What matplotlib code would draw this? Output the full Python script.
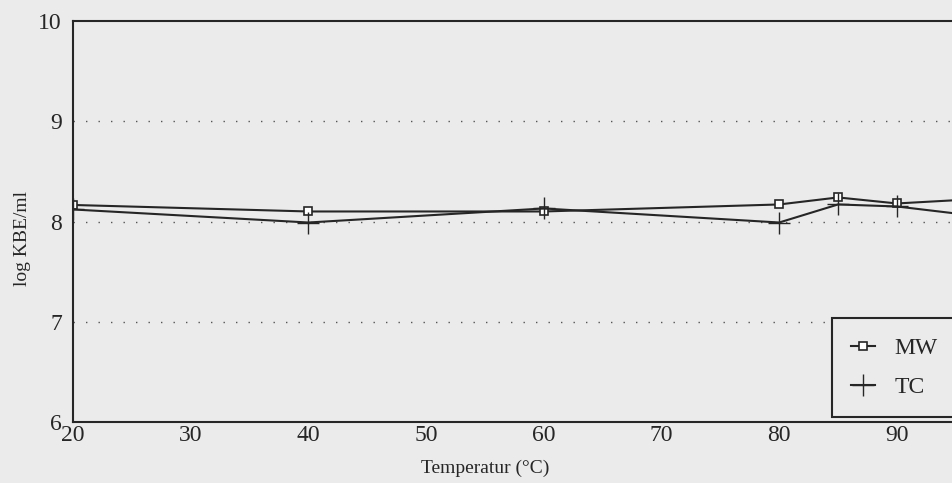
import matplotlib
matplotlib.use("Agg")
import matplotlib.pyplot as plt

temps = [20, 40, 60, 80, 85, 90, 100]
mw = [8.165, 8.10, 8.10, 8.17, 8.24, 8.18, 8.245]
tc = [8.12, 7.99, 8.13, 7.99, 8.17, 8.15, 8.01]
xticks = [20, 30, 40, 50, 60, 70, 80, 90]
yticks = [6, 7, 8, 9, 10]

bg = "#ebebeb"
ink = "#262626"
plt.rcParams["font.family"] = ["Liberation Serif", "DejaVu Serif"]

fig = plt.figure(figsize=(9.52, 4.83), dpi=100, facecolor=bg)
W, H = 952, 483
x0, x1 = 73, 73 + 80 * 11.77
y0, y1 = 422, 21
ax = fig.add_axes([x0 / W, 1 - y0 / H, (x1 - x0) / W, (y0 - y1) / H])
ax.set_facecolor(bg)

for g in [7, 8, 9]:
    ax.axhline(g, color="#555555", lw=1.0, ls=(0, (1, 8)), zorder=1)

ax.plot(temps, mw, color=ink, lw=1.5, marker="s", ms=5.5, mfc="white",
        mec=ink, mew=1.2, label="MW", zorder=3)
ax.plot(temps, tc, color=ink, lw=1.5, marker="+", ms=16, mew=1.0,
        label="TC", zorder=3)

ax.set_xlim(20, 100)
ax.set_ylim(6, 10)
ax.set_xticks(xticks)
ax.set_yticks(yticks)
ax.tick_params(length=0, labelsize=17, colors=ink)
ax.tick_params(axis="y", pad=8)
ax.tick_params(axis="x", pad=2)
for s in ["left", "top", "bottom"]:
    ax.spines[s].set_color(ink)
    ax.spines[s].set_linewidth(1.5)
ax.spines["right"].set_visible(False)

ax.set_xlabel("Temperatur (°C)", fontsize=14, color=ink)
ax.xaxis.set_label_coords((485 - x0) / (x1 - x0), (y0 - 460) / (y0 - y1))
ax.set_ylabel("log KBE/ml", fontsize=14, color=ink)
ax.yaxis.set_label_coords((31 - x0) / (x1 - x0), (y0 - 239) / (y0 - y1))

leg = fig.legend(loc="lower left", bbox_to_anchor=(832 / W, 1 - 417 / H),
                 fontsize=17, frameon=True, fancybox=False, edgecolor=ink,
                 facecolor=bg, framealpha=1, handlelength=1.0,
                 borderpad=0.8, labelspacing=0.75, handletextpad=0.85,
                 borderaxespad=0)
leg.get_frame().set_linewidth(1.5)
for t in leg.get_texts():
    t.set_color(ink)

fig.savefig("out.png", dpi=100, facecolor=bg)
